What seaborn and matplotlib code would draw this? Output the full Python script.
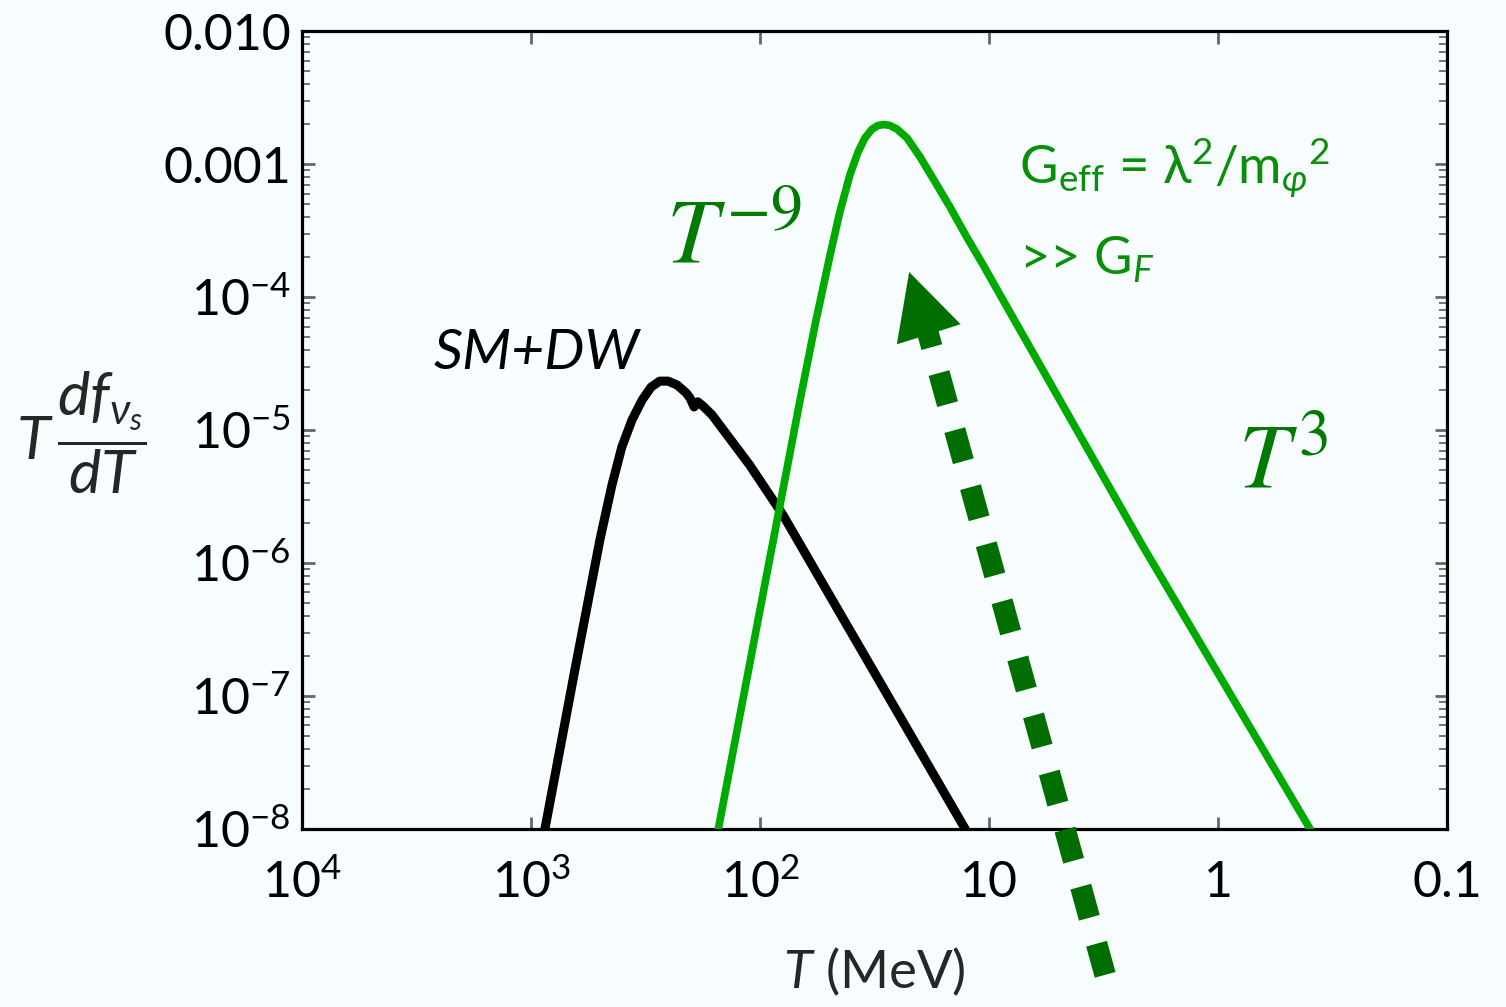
import numpy as np
import pandas as pd
import matplotlib
matplotlib.use("Agg")
import matplotlib.pyplot as plt
import seaborn as sns
from matplotlib.ticker import LogLocator, NullFormatter, NullLocator

# ------------------------------------------------------------
# valeurs (T en MeV, y = T df/dT)
# ------------------------------------------------------------
sm_T = [869, 643, 500, 443, 401, 362, 327, 299, 274, 252, 230, 210, 202, 194,
        187, 177, 162, 150, 111, 79.4, 12.7]
sm_y = [1e-8, 1.57e-7, 1.49e-6, 3.85e-6, 7.45e-6, 1.19e-5, 1.68e-5, 2.10e-5,
        2.33e-5, 2.33e-5, 2.18e-5, 1.90e-5, 1.74e-5, 1.49e-5, 1.63e-5,
        1.51e-5, 1.30e-5, 1.09e-5, 5.46e-6, 2.30e-6, 1e-8]

nu_T = [152, 100, 66.8, 57.5, 49.4, 44.8, 40.5, 37.3, 34.8, 32.4, 30.5, 28.8,
        27.1, 25.2, 22.8, 20.0, 17.6, 14.8, 12.5, 10.6, 8.95, 2.13, 0.396]
nu_y = [1e-8, 4.44e-7, 1.68e-5, 6.15e-5, 2.07e-4, 4.35e-4, 8.26e-4, 1.23e-3,
        1.57e-3, 1.83e-3, 1.95e-3, 1.98e-3, 1.95e-3, 1.83e-3, 1.57e-3,
        1.13e-3, 7.85e-4, 4.75e-4, 2.82e-4, 1.74e-4, 1.04e-4, 1.34e-6, 1e-8]

xticks = [1e4, 1e3, 1e2, 10, 1, 0.1]
xtick_labels = [r"$10^4$", r"$10^3$", r"$10^2$", "10", "1", "0.1"]
yticks = [1e-2, 1e-3, 1e-4, 1e-5, 1e-6, 1e-7, 1e-8]
ytick_labels = ["0.010", "0.001", r"$10^{-4}$", r"$10^{-5}$", r"$10^{-6}$",
                r"$10^{-7}$", r"$10^{-8}$"]

# flèche : pointe et départ (hors du cadre)
arrow_tip = (22.3, 1.54e-4)
arrow_head_base = (19.0, 6.4e-5)
arrow_tail = (3.11, 8.0e-10)

bg = "#F7FDFF"

sns.set_theme(style="ticks")
plt.rcParams["font.family"] = ["Lato", "DejaVu Sans"]
plt.rcParams["mathtext.fontset"] = "custom"
plt.rcParams["mathtext.rm"] = "Lato"
plt.rcParams["mathtext.it"] = "Lato:italic"
plt.rcParams["mathtext.bf"] = "Lato:bold"

fig = plt.figure(figsize=(15.06, 10.07), dpi=100, facecolor=bg)
ax = fig.add_axes([0.2005, 0.1768, 0.7603, 0.7924], facecolor=bg)
ax.set_xscale("log")
ax.set_yscale("log")

df_sm = pd.DataFrame({"T": sm_T, "y": sm_y})
df_nu = pd.DataFrame({"T": nu_T, "y": nu_y})
sns.lineplot(data=df_sm, x="T", y="y", sort=False, estimator=None,
             color="black", linewidth=6.5, ax=ax, zorder=3)
sns.lineplot(data=df_nu, x="T", y="y", sort=False, estimator=None,
             color="#00AA00", linewidth=5.5, ax=ax, zorder=3)

ax.set_xlim(1e4, 0.1)
ax.set_ylim(1e-8, 1e-2)

# ticks
ax.set_xticks(xticks)
ax.set_xticklabels(xtick_labels)
ax.xaxis.set_minor_locator(NullLocator())
ax.set_yticks(yticks)
ax.set_yticklabels(ytick_labels)
ax.yaxis.set_minor_locator(LogLocator(base=10, subs=np.arange(2, 10)))
ax.yaxis.set_minor_formatter(NullFormatter())
ax.tick_params(which="both", direction="in", color="#666666", top=True,
               right=True, labelsize=36, labelcolor="black")
ax.tick_params(which="major", length=9, width=2)
ax.tick_params(which="minor", length=6, width=1.3)
ax.tick_params(axis="y", pad=8)
ax.tick_params(axis="x", pad=22)
for s in ax.spines.values():
    s.set_linewidth(2.3)
    s.set_color("black")

ax.set_xlabel(r"$T$ (MeV)", fontsize=38, labelpad=28)
ax.set_ylabel("")
fig.text(0.054, 0.57, r"$T\,\dfrac{df_{\nu_s}}{dT}$", fontsize=44,
         ha="center", va="center")

# annotations
ax.text(0.205, 0.596, "SM+DW", transform=ax.transAxes, fontsize=41,
        style="italic", ha="center", va="center", color="black")
ax.text(0.377, 0.742, r"$T^{-9}$", transform=ax.transAxes, fontsize=66,
        math_fontfamily="stix", color="#007A00", ha="center", va="center")
ax.text(0.857, 0.46, r"$T^{3}$", transform=ax.transAxes, fontsize=66,
        math_fontfamily="stix", color="#007A00", ha="center", va="center")
ax.text(0.626, 0.828, r"G$_{\mathrm{eff}}$ = λ$^2$/m$_{φ}$$^2$",
        transform=ax.transAxes, fontsize=38, color="#0B8F0B",
        ha="left", va="center")
ax.text(0.626, 0.713, r">> G$_{F}$", transform=ax.transAxes, fontsize=38,
        color="#0B8F0B", ha="left", va="center")

# flèche en pointillés
ax.annotate("", xy=arrow_head_base, xytext=arrow_tail, annotation_clip=False,
            arrowprops=dict(arrowstyle="-", color="#006E00", lw=15.5,
                            linestyle=(0, (1.5, 1.25)), capstyle="butt",
                            shrinkA=0, shrinkB=0))
ax.annotate("", xy=arrow_tip, xytext=arrow_head_base, annotation_clip=False,
            arrowprops=dict(arrowstyle="-|>,head_length=3.9,head_width=2.0",
                            color="#006E00", lw=0.1, shrinkA=0, shrinkB=0))

fig.savefig("out.png", dpi=100, facecolor=bg)
